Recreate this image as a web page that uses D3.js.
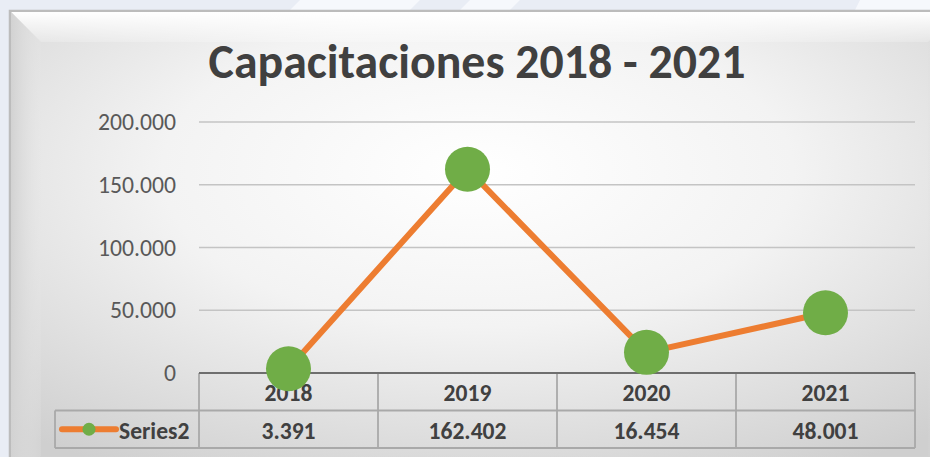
<!DOCTYPE html>
<html><head><meta charset="utf-8">
<script src="https://cdn.jsdelivr.net/npm/d3@7"></script>
<style>html,body{margin:0;padding:0;background:#ebeff6;overflow:hidden}</style>
</head><body>
<svg id="chart" width="930" height="457"></svg>
<script>
const title = "Capacitaciones 2018 - 2021";
const categories = ["2018", "2019", "2020", "2021"];
const seriesName = "Series2";
const values = [3391, 162402, 16454, 48001];
const yTicks = [0, 50000, 100000, 150000, 200000];

const FONT = "Carlito, Calibri, Lato, 'Open Sans', sans-serif";
const W = 930, H = 457;
const svg = d3.select("#chart");
const defs = svg.append("defs");

const loc = d3.formatLocale({decimal: ",", thousands: ".", grouping: [3], currency: ["", ""]});
const fmt = loc.format(",d");

// fit a font size so that a sample string has a given width
function fitSize(str, weight, target) {
  const s = svg.append("text").attr("font-family", FONT).attr("font-weight", weight).attr("font-size", 20).text(str);
  const w = s.node().getComputedTextLength();
  s.remove();
  return 20 * target / w;
}

// background decoration (outside frame)
svg.append("rect").attr("width", W).attr("height", H).attr("fill", "#e9edf5");
[[300,0,420,0,380,40,260,40],[470,0,520,0,480,40,430,40],[860,0,930,0,930,20,840,40]].forEach(p=>{
  svg.append("polygon").attr("points", d3.range(0,p.length,2).map(i=>p[i]+","+p[i+1]).join(" ")).attr("fill","#f6f8fc");
});

// frame gradient
const rg = defs.append("radialGradient").attr("id","bg").attr("cx","0.5").attr("cy","0.35").attr("r","0.75");
rg.append("stop").attr("offset","0").attr("stop-color","#ffffff");
rg.append("stop").attr("offset","0.45").attr("stop-color","#f3f3f3");
rg.append("stop").attr("offset","1").attr("stop-color","#cfcfcf");

const fx0 = 10, fy0 = 11, fx1 = 945, fy1 = 470, bv = 30;
svg.append("rect").attr("x", fx0).attr("y", fy0).attr("width", fx1-fx0).attr("height", fy1-fy0)
  .attr("fill", "url(#bg)").attr("stroke", "#bcbcbc").attr("stroke-width", 2.5);

// bevels
const lg = defs.append("linearGradient").attr("id","lb").attr("x1","0").attr("x2","1");
lg.append("stop").attr("offset","0").attr("stop-color","#d2d2d2");
lg.append("stop").attr("offset","1").attr("stop-color","#e6e6e6").attr("stop-opacity","0.2");
const tg = defs.append("linearGradient").attr("id","tb").attr("x1","0").attr("x2","0").attr("y1","0").attr("y2","1");
tg.append("stop").attr("offset","0").attr("stop-color","#ffffff");
tg.append("stop").attr("offset","1").attr("stop-color","#ffffff").attr("stop-opacity","0.2");
const rgb = defs.append("linearGradient").attr("id","rb").attr("x1","1").attr("x2","0");
rgb.append("stop").attr("offset","0").attr("stop-color","#c4c4c4");
rgb.append("stop").attr("offset","1").attr("stop-color","#dcdcdc").attr("stop-opacity","0.1");
const bg2 = defs.append("linearGradient").attr("id","bb").attr("x1","0").attr("x2","0").attr("y1","1").attr("y2","0");
bg2.append("stop").attr("offset","0").attr("stop-color","#c8c8c8");
bg2.append("stop").attr("offset","1").attr("stop-color","#d8d8d8").attr("stop-opacity","0.1");

const ix0 = fx0+1, iy0 = fy0+1, ix1 = 958, iy1 = 486;
const poly = pts => svg.append("polygon").attr("points", pts.map(p=>p.join(",")).join(" "));
poly([[ix0,iy0],[ix1,iy0],[ix1-bv,iy0+bv],[ix0+bv,iy0+bv]]).attr("fill","url(#tb)");
poly([[ix0,iy0],[ix0+bv,iy0+bv],[ix0+bv,iy1-bv],[ix0,iy1]]).attr("fill","url(#lb)");
poly([[ix1,iy0],[ix1,iy1],[ix1-bv,iy1-bv],[ix1-bv,iy0+bv]]).attr("fill","url(#rb)");
poly([[ix0,iy1],[ix0+bv,iy1-bv],[ix1-bv,iy1-bv],[ix1,iy1]]).attr("fill","url(#bb)");

// scales
const plotL = 199, plotR = 915, plotT = 122, plotB = 373;
const x = d3.scaleBand().domain(categories).range([plotL, plotR]);
const y = d3.scaleLinear().domain([0, 200000]).range([plotB, plotT]);

// title
svg.append("text").attr("x", 477).attr("y", 78).attr("text-anchor","middle")
  .attr("font-family", FONT).attr("font-weight","bold").attr("font-size", fitSize(title, "bold", 537))
  .attr("fill","#404040").text(title);

const FS = fitSize("200.000", "normal", 78);
const FB = fitSize("162.402", "bold", 78);

// gridlines + y axis labels
const yAxis = d3.axisLeft(y).tickValues(yTicks).tickFormat(d => d === 0 ? "0" : fmt(d)).tickSize(0).tickPadding(23);
const ga = svg.append("g").attr("transform", `translate(${plotL},0)`).call(yAxis);
ga.select(".domain").remove();
ga.selectAll("text").attr("font-family", FONT).attr("font-size", FS).attr("fill", "#595959");
svg.append("g").selectAll("line").data(yTicks.filter(d => d > 0)).join("line")
  .attr("x1", plotL).attr("x2", plotR).attr("y1", d => y(d)).attr("y2", d => y(d))
  .attr("stroke", "#c4c4c4").attr("stroke-width", 1.5);

// data table
const rowH = 37.5, tableL = 55;
const r1 = plotB, r2 = plotB + rowH, r3 = plotB + 2*rowH;
const tbl = svg.append("g").attr("stroke", "#a9a9a9").attr("stroke-width", 1.8).attr("fill","none");
tbl.append("line").attr("x1", plotL).attr("x2", plotR).attr("y1", r2).attr("y2", r2);
tbl.append("line").attr("x1", tableL).attr("x2", plotR).attr("y1", r3).attr("y2", r3);
tbl.append("line").attr("x1", tableL).attr("x2", plotL).attr("y1", r2).attr("y2", r2);
tbl.append("line").attr("x1", tableL).attr("x2", tableL).attr("y1", r2).attr("y2", r3);
tbl.selectAll("line.v").data(categories.map(c => x(c)).concat([plotR])).join("line").attr("class","v")
  .attr("x1", d => d).attr("x2", d => d).attr("y1", r1).attr("y2", r3);
svg.append("line").attr("x1", plotL).attr("x2", plotR).attr("y1", plotB).attr("y2", plotB)
  .attr("stroke", "#6e6e6e").attr("stroke-width", 2);

const cx = c => x(c) + x.bandwidth()/2;
svg.append("g").selectAll("text").data(categories).join("text")
  .attr("x", cx).attr("y", r1 + 28).attr("text-anchor","middle")
  .attr("font-family", FONT).attr("font-weight","bold").attr("font-size", FB).attr("fill","#404040")
  .text(d => d);
svg.append("g").selectAll("text").data(values).join("text")
  .attr("x", (d,i) => cx(categories[i])).attr("y", r2 + 28).attr("text-anchor","middle")
  .attr("font-family", FONT).attr("font-weight","bold").attr("font-size", FB).attr("fill","#404040")
  .text(d => fmt(d));

// legend key
const ly = r2 + rowH/2;
svg.append("line").attr("x1", 62).attr("x2", 116).attr("y1", ly).attr("y2", ly)
  .attr("stroke", "#ed7d31").attr("stroke-width", 6).attr("stroke-linecap","round");
svg.append("circle").attr("cx", 89).attr("cy", ly).attr("r", 6.5).attr("fill", "#70ad47");
svg.append("text").attr("x", 119).attr("y", r2 + 28).attr("font-family", FONT).attr("font-weight","bold")
  .attr("font-size", FB).attr("fill","#404040").text(seriesName);

// series line + markers
const line = d3.line().x((d,i) => cx(categories[i])).y(d => y(d));
svg.append("path").datum(values).attr("d", line).attr("fill","none")
  .attr("stroke", "#ed7d31").attr("stroke-width", 6).attr("stroke-linejoin","round");
svg.append("g").selectAll("circle").data(values).join("circle")
  .attr("cx", (d,i) => cx(categories[i])).attr("cy", d => y(d)).attr("r", 22.5).attr("fill", "#70ad47");
</script>
</body></html>
